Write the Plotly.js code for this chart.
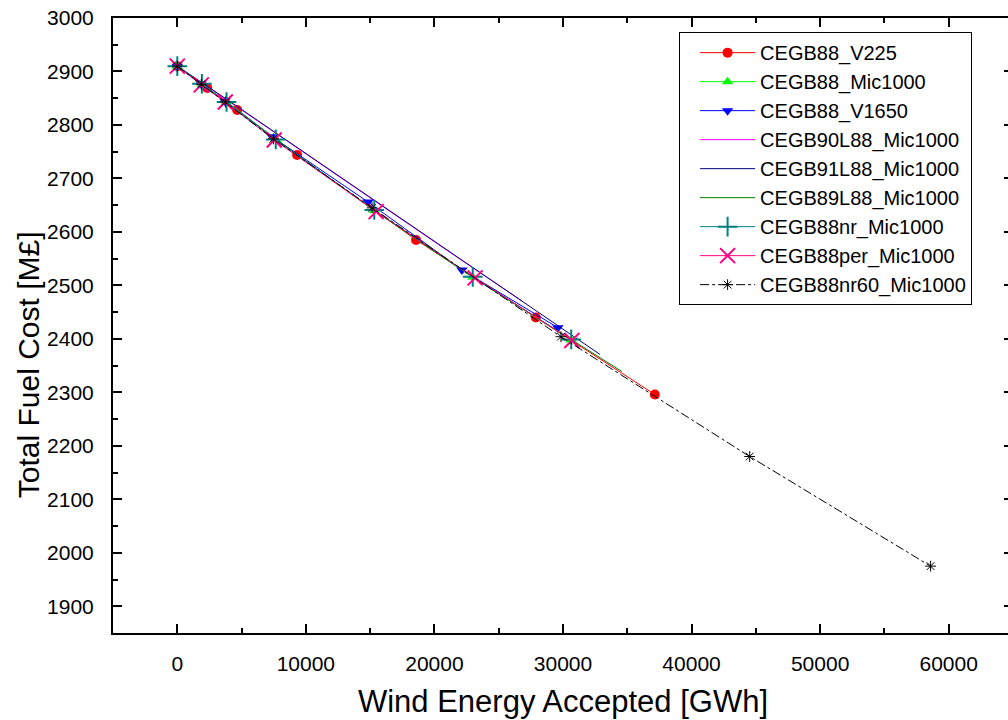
<!DOCTYPE html>
<html>
<head>
<meta charset="utf-8">
<script src="https://cdn.plot.ly/plotly-3.0.1.min.js"></script>
<style>
html, body { margin: 0; padding: 0; overflow: hidden; background: #fff; }
#chart { width: 1024px; height: 720px; }
</style>
</head>
<body>
<div id="chart"></div>
<script>
// Series names
const seriesNames = [
  "CEGB88_V225", "CEGB88_Mic1000", "CEGB88_V1650", "CEGB90L88_Mic1000",
  "CEGB91L88_Mic1000", "CEGB89L88_Mic1000", "CEGB88nr_Mic1000",
  "CEGB88per_Mic1000", "CEGB88nr60_Mic1000"
];

// Wind energy accepted [GWh] and total fuel cost [M£] per series
const v225_x = [0, 2330, 4660, 9320, 18570, 27890, 37140];
const v225_y = [2910, 2869, 2828, 2744, 2585, 2440, 2296];

const mic1000_x = [0, 1915, 3830, 7660, 15320, 22980, 30640];
const mic1000_y = [2910, 2876, 2844, 2773, 2640, 2515, 2398];

const v1650_x = [0, 1850, 3700, 7380, 14840, 22140, 29600];
const v1650_y = [2910, 2877, 2845, 2778, 2656, 2529, 2421];

const l90_x = [0, 1800, 3600, 7200, 14300, 21500, 26800];
const l90_y = [2910, 2881, 2851, 2792, 2675, 2557, 2471];

const l91_x = [0, 1830, 3660, 7310, 14620, 21930, 29240, 32870];
const l91_y = [2910, 2881, 2851, 2791, 2671, 2551, 2431, 2371];

const l89_x = [0, 1920, 3840, 7680, 15370, 23050, 30740, 34580];
const l89_y = [2910, 2876, 2843, 2773, 2639, 2514, 2397, 2339];

const nr_x = [0, 1915, 3830, 7660, 15320, 22980, 30640];
const nr_y = [2910, 2877, 2843, 2773, 2641, 2516, 2399];

const per_x = [0, 1865, 3730, 7540, 15460, 23160, 30690];
const per_y = [2910, 2875, 2843, 2772, 2638, 2514, 2397];

const nr60_x = [0, 1870, 3740, 7480, 15150, 29840, 44520, 58590];
const nr60_y = [2910, 2876, 2843, 2774, 2645, 2404, 2180, 1975];

// Axis ticks
const xTickVals = [0, 10000, 20000, 30000, 40000, 50000, 60000];
const yTickVals = [1900, 2000, 2100, 2200, 2300, 2400, 2500, 2600, 2700, 2800, 2900, 3000];

const traces = [
  {x: v225_x, y: v225_y, name: seriesNames[0], mode: "lines+markers",
   line: {color: "#ff0000", width: 1},
   marker: {symbol: "circle", size: 10, color: "#ff0000"}},
  {x: mic1000_x, y: mic1000_y, name: seriesNames[1], mode: "lines+markers",
   line: {color: "#00ff00", width: 1},
   marker: {symbol: "triangle-up", size: 10, color: "#00ff00"}},
  {x: v1650_x, y: v1650_y, name: seriesNames[2], mode: "lines+markers",
   line: {color: "#0000ff", width: 1},
   marker: {symbol: "triangle-down", size: 10, color: "#0000ff"}},
  {x: l90_x, y: l90_y, name: seriesNames[3], mode: "lines",
   line: {color: "#ff00ff", width: 1}},
  {x: l91_x, y: l91_y, name: seriesNames[4], mode: "lines",
   line: {color: "#000080", width: 1}},
  {x: l89_x, y: l89_y, name: seriesNames[5], mode: "lines",
   line: {color: "#008000", width: 1}},
  {x: nr_x, y: nr_y, name: seriesNames[6], mode: "lines+markers",
   line: {color: "#008080", width: 1},
   marker: {symbol: "cross-thin", size: 14, color: "#008080", line: {color: "#008080", width: 2}}},
  {x: per_x, y: per_y, name: seriesNames[7], mode: "lines+markers",
   line: {color: "#ff0080", width: 1},
   marker: {symbol: "x-thin", size: 15, color: "#ff0080", line: {color: "#ff0080", width: 2}}},
  {x: nr60_x, y: nr60_y, name: seriesNames[8], mode: "lines+markers",
   line: {color: "#000000", width: 1, dash: "dashdot"},
   marker: {symbol: "asterisk", size: 9, color: "#000000", line: {color: "#000000", width: 1}}}
];

const axisFont = {family: "Liberation Sans, Arial, sans-serif", size: 21, color: "#000"};

const layout = {
  width: 1024, height: 720,
  margin: {l: 113, r: 11, t: 18, b: 87},
  paper_bgcolor: "#fff", plot_bgcolor: "#fff",
  font: {family: "Liberation Sans, Arial, sans-serif", color: "#000"},
  showlegend: true,
  legend: {
    x: 0.629, y: 0.977, xanchor: "left", yanchor: "top",
    bgcolor: "#fff", bordercolor: "#000", borderwidth: 1,
    font: {family: "Liberation Sans, Arial, sans-serif", size: 20, color: "#000"},
    itemwidth: 55, indentation: 15, tracegroupgap: 0
  },
  xaxis: {
    range: [-5000, 65000],
    tickvals: xTickVals, ticktext: xTickVals.map(String),
    ticks: "inside", ticklen: 9, tickwidth: 2, tickcolor: "#000",
    minor: {dtick: 5000, tick0: 0, ticks: "inside", ticklen: 5, tickwidth: 2, tickcolor: "#000", showgrid: false},
    showline: true, linecolor: "#000", linewidth: 2, mirror: "allticks",
    showgrid: false, zeroline: false,
    tickfont: axisFont, ticklabelstandoff: 11,
    title: {text: "Wind Energy Accepted [GWh]", font: {family: "Liberation Sans, Arial, sans-serif", size: 31, color: "#000"}, standoff: 16}
  },
  yaxis: {
    range: [1850, 3000],
    tickvals: yTickVals, ticktext: yTickVals.map(String),
    ticks: "inside", ticklen: 9, tickwidth: 2, tickcolor: "#000",
    minor: {dtick: 50, tick0: 1850, ticks: "inside", ticklen: 5, tickwidth: 2, tickcolor: "#000", showgrid: false},
    showline: true, linecolor: "#000", linewidth: 2, mirror: "allticks",
    showgrid: false, zeroline: false,
    tickfont: axisFont, ticklabelstandoff: 13
  },
  annotations: [{
    text: "Total Fuel Cost [M£]", textangle: -90,
    xref: "paper", yref: "paper", x: -0.094, y: 0.436,
    xanchor: "center", yanchor: "middle", showarrow: false,
    font: {family: "Liberation Sans, Arial, sans-serif", size: 30, color: "#000"}
  }]
};

Plotly.newPlot("chart", traces, layout, {displayModeBar: false, staticPlot: true});
</script>
</body>
</html>
